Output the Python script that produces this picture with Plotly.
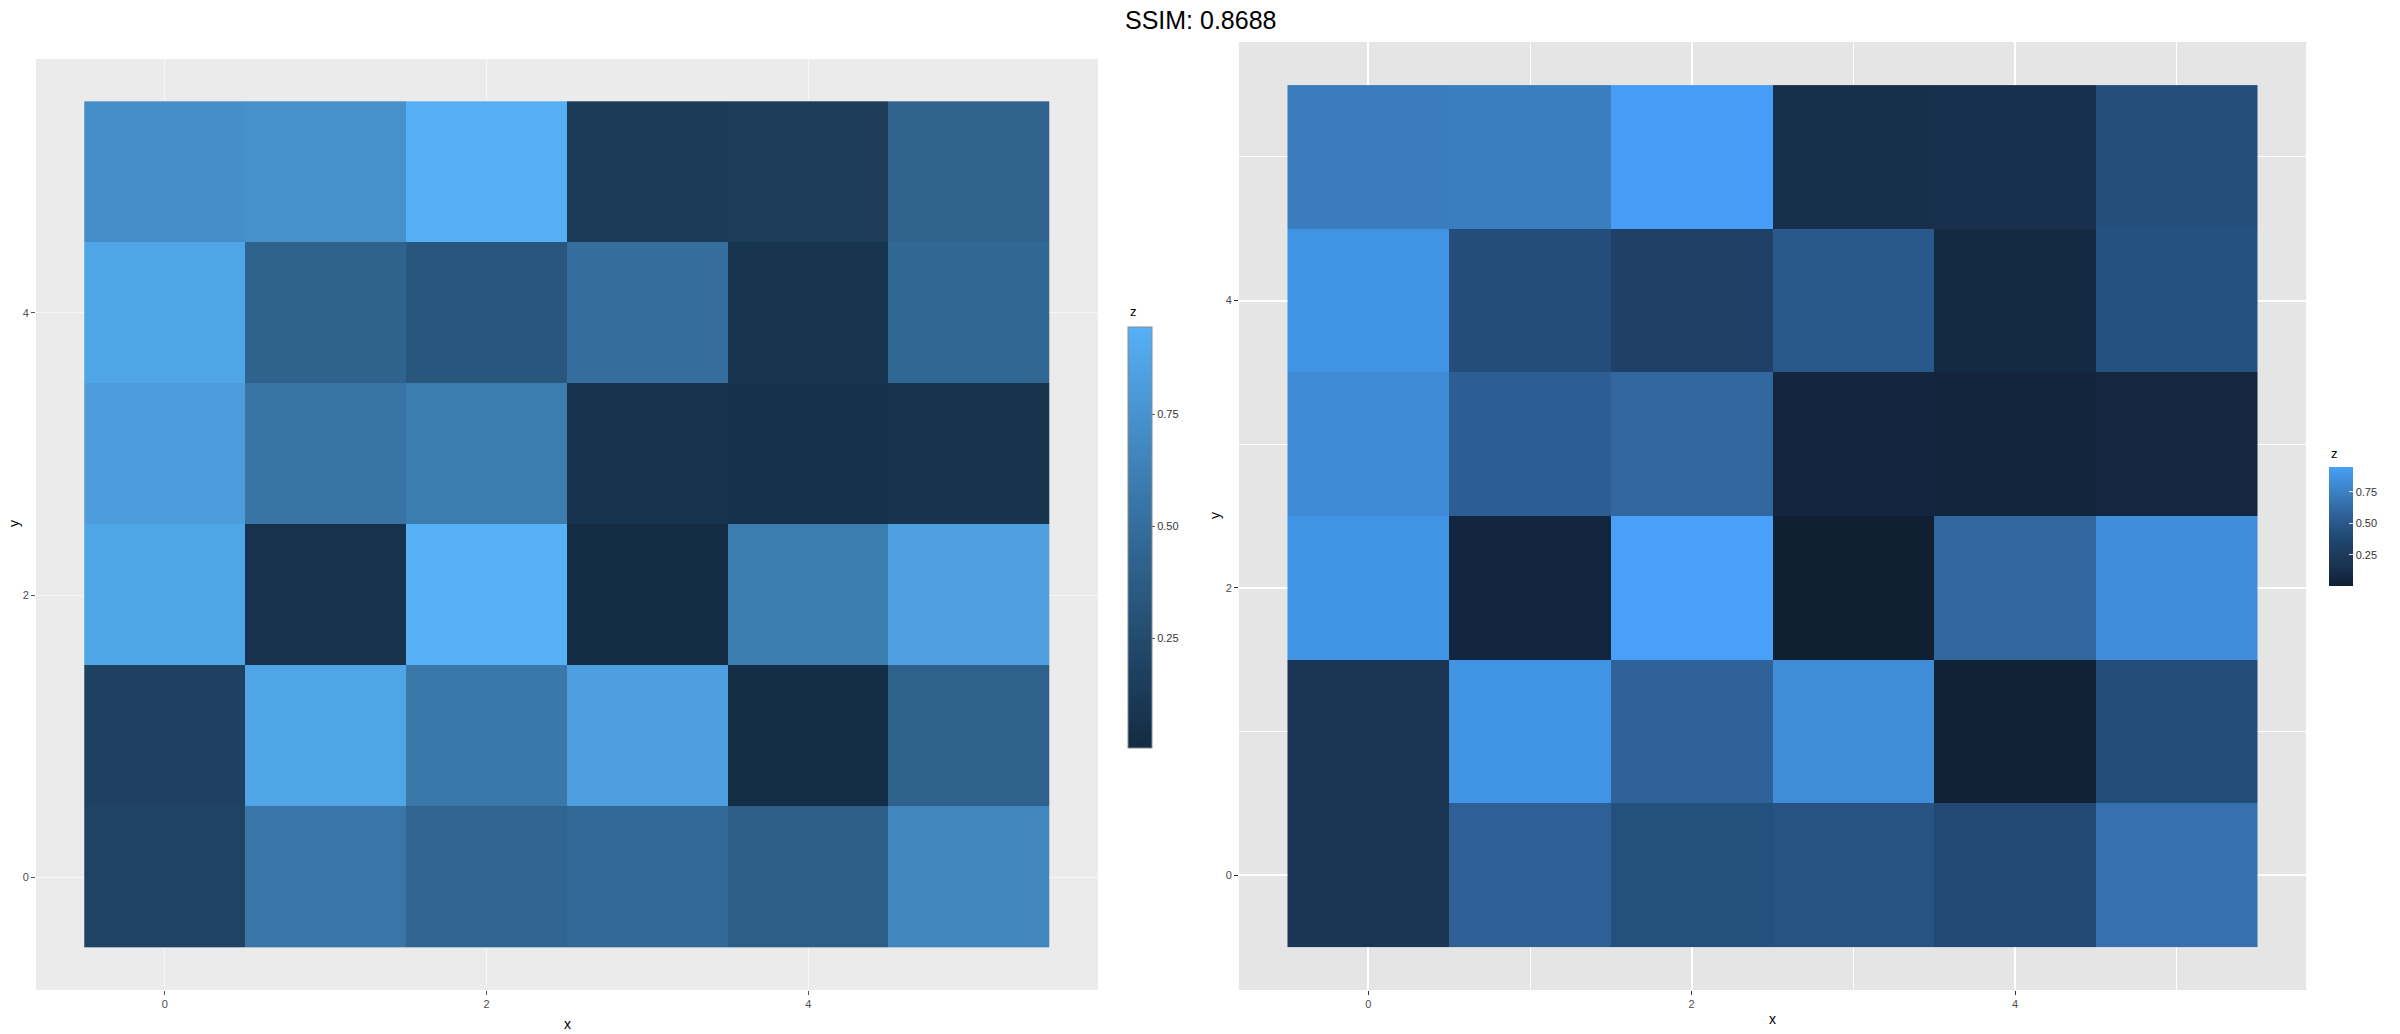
import plotly.graph_objects as go

# ---- data (rows are y = 0..5, columns are x = 0..5) ----
x_vals = [0, 1, 2, 3, 4, 5]
y_vals = [0, 1, 2, 3, 4, 5]
z_row0 = [0.19, 0.55, 0.44, 0.46, 0.39, 0.66]
z_row1 = [0.18, 0.87, 0.57, 0.83, 0.03, 0.41]
z_row2 = [0.87, 0.06, 0.945, 0.005, 0.60, 0.84]
z_row3 = [0.82, 0.54, 0.60, 0.06, 0.05, 0.07]
z_row4 = [0.87, 0.42, 0.33, 0.50, 0.08, 0.45]
z_row5 = [0.72, 0.73, 0.93, 0.13, 0.14, 0.43]
z_grid = [z_row0, z_row1, z_row2, z_row3, z_row4, z_row5]
tick_vals = [0, 2, 4]
cbar_ticks = [0.25, 0.50, 0.75]
cbar_labels = ["0.25", "0.50", "0.75"]
title_text = "SSIM: 0.8688"

W, H = 2400, 1034


def px(p):
    return p / W


def py(p):
    return 1 - p / H


def srgb_to_lin(c):
    c = c / 255.0
    return c / 12.92 if c <= 0.04045 else ((c + 0.055) / 1.055) ** 2.4


def lin_to_srgb(c):
    c = max(0.0, min(1.0, c))
    v = 12.92 * c if c <= 0.0031308 else 1.055 * c ** (1 / 2.4) - 0.055
    return int(round(v * 255))


def hex_to_lab(h):
    r, g, b = (srgb_to_lin(int(h[i:i + 2], 16)) for i in (1, 3, 5))
    X = (0.4124 * r + 0.3576 * g + 0.1805 * b) / 0.95047
    Y = (0.2126 * r + 0.7152 * g + 0.0722 * b)
    Z = (0.0193 * r + 0.1192 * g + 0.9505 * b) / 1.08883

    def f(t):
        return t ** (1 / 3) if t > 0.008856 else 7.787 * t + 16 / 116
    fx, fy, fz = f(X), f(Y), f(Z)
    return 116 * fy - 16, 500 * (fx - fy), 200 * (fy - fz)


def lab_to_hex(L, a, b):
    fy = (L + 16) / 116
    fx = fy + a / 500
    fz = fy - b / 200

    def finv(t):
        return t ** 3 if t ** 3 > 0.008856 else (t - 16 / 116) / 7.787
    X, Y, Z = finv(fx) * 0.95047, finv(fy), finv(fz) * 1.08883
    r = 3.2406 * X - 1.5372 * Y - 0.4986 * Z
    g = -0.9689 * X + 1.8758 * Y + 0.0415 * Z
    bb = 0.0557 * X - 0.2040 * Y + 1.0570 * Z
    return "#%02x%02x%02x" % (lin_to_srgb(r), lin_to_srgb(g), lin_to_srgb(bb))


lo, hi = hex_to_lab("#132B43"), hex_to_lab("#56B1F7")
left_scale = []
for i in range(11):
    t = i / 10
    left_scale.append([t, lab_to_hex(*[lo[k] + (hi[k] - lo[k]) * t for k in range(3)])])

right_scale = [
    [0.0, "#101F31"], [0.0585, "#13263F"], [0.1755, "#1A3452"],
    [0.3457, "#1F4168"], [0.4628, "#24507E"], [0.633, "#32669F"],
    [0.7606, "#3A7CBD"], [0.920, "#4193E3"], [1.0, "#48A0F9"],
]

zmin = min(min(r) for r in z_grid)
zmax = max(max(r) for r in z_grid)

FONT = "Liberation Sans, Arial"

fig = go.Figure()

fig.add_trace(go.Heatmap(
    x=x_vals, y=y_vals, z=z_grid, xaxis="x", yaxis="y",
    colorscale=left_scale, zmin=zmin, zmax=zmax,
    colorbar=dict(
        x=px(1128), xanchor="left", xpad=0,
        y=py(327), yanchor="top", ypad=0,
        len=421, lenmode="pixels", thickness=24, thicknessmode="pixels",
        outlinecolor="#8a8a8a", outlinewidth=1,
        tickvals=cbar_ticks, ticktext=cbar_labels,
        ticks="outside", ticklen=3, tickcolor="#555555",
        tickfont=dict(family=FONT, size=11, color="#333333"),
    ),
    hoverinfo="skip",
))

fig.add_trace(go.Heatmap(
    x=x_vals, y=y_vals, z=z_grid, xaxis="x2", yaxis="y2",
    colorscale=right_scale, zmin=zmin, zmax=zmax,
    colorbar=dict(
        x=px(2329), xanchor="left", xpad=0,
        y=py(467), yanchor="top", ypad=0,
        len=119, lenmode="pixels", thickness=24, thicknessmode="pixels",
        outlinewidth=0,
        tickvals=cbar_ticks, ticktext=cbar_labels,
        ticks="inside", ticklen=4, tickcolor="#dddddd",
        tickfont=dict(family=FONT, size=11, color="#333333"),
    ),
    hoverinfo="skip",
))

tickfont = dict(family=FONT, size=11, color="#4D4D4D")

fig.update_layout(
    width=W, height=H,
    margin=dict(l=0, r=0, t=0, b=0),
    paper_bgcolor="white",
    plot_bgcolor="white",
    showlegend=False,
    xaxis=dict(domain=[px(36), px(1098)], anchor="y", range=[-0.8, 5.8],
               tickvals=tick_vals, showgrid=True, gridcolor="#F7F7F7", gridwidth=1,
               zeroline=False, ticks="outside", ticklen=4, tickcolor="#555555",
               tickfont=tickfont, showline=False),
    yaxis=dict(domain=[py(990), py(59)], anchor="x", range=[-0.8, 5.8],
               tickvals=tick_vals, showgrid=True, gridcolor="#F7F7F7", gridwidth=1,
               zeroline=False, ticks="outside", ticklen=4, tickcolor="#555555",
               tickfont=tickfont, showline=False),
    xaxis2=dict(domain=[px(1239), px(2306)], anchor="y2", range=[-0.8, 5.8],
                tickvals=tick_vals, showgrid=True, gridcolor="white", gridwidth=2,
                minor=dict(dtick=1, tick0=1, showgrid=True, gridcolor="white", gridwidth=1),
                zeroline=False, ticks="outside", ticklen=4, tickcolor="#333333",
                tickfont=tickfont, showline=False),
    yaxis2=dict(domain=[py(990), py(42)], anchor="x2", range=[-0.8, 5.8],
                tickvals=tick_vals, showgrid=True, gridcolor="white", gridwidth=2,
                minor=dict(dtick=1, tick0=1, showgrid=True, gridcolor="white", gridwidth=1),
                zeroline=False, ticks="outside", ticklen=4, tickcolor="#333333",
                tickfont=tickfont, showline=False),
    shapes=[
        dict(type="rect", xref="paper", yref="paper", layer="below",
             x0=px(36), x1=px(1098), y0=py(990), y1=py(59),
             fillcolor="#EBEBEB", line=dict(width=0)),
        dict(type="rect", xref="paper", yref="paper", layer="below",
             x0=px(1239), x1=px(2306), y0=py(990), y1=py(42),
             fillcolor="#E5E5E5", line=dict(width=0)),
    ],
    annotations=[
        dict(text=title_text, x=px(1200), y=py(20), xref="paper", yref="paper",
             showarrow=False, font=dict(family=FONT, size=25, color="black"),
             xanchor="center", yanchor="middle"),
        dict(text="x", x=px(567), y=py(1024), xref="paper", yref="paper",
             showarrow=False, font=dict(family=FONT, size=14, color="black"),
             xanchor="center", yanchor="middle"),
        dict(text="x", x=px(1772), y=py(1019), xref="paper", yref="paper",
             showarrow=False, font=dict(family=FONT, size=14, color="black"),
             xanchor="center", yanchor="middle"),
        dict(text="y", x=px(14), y=py(524), xref="paper", yref="paper", textangle=-90,
             showarrow=False, font=dict(family=FONT, size=14, color="black"),
             xanchor="center", yanchor="middle"),
        dict(text="y", x=px(1215), y=py(516), xref="paper", yref="paper", textangle=-90,
             showarrow=False, font=dict(family=FONT, size=14, color="black"),
             xanchor="center", yanchor="middle"),
        dict(text="z", x=px(1128), y=py(311), xref="paper", yref="paper",
             showarrow=False, font=dict(family=FONT, size=13, color="black"),
             xanchor="left", yanchor="middle"),
        dict(text="z", x=px(2329), y=py(454), xref="paper", yref="paper",
             showarrow=False, font=dict(family=FONT, size=13, color="black"),
             xanchor="left", yanchor="middle"),
    ],
)

fig.write_html(
    "out.html",
    config={"displayModeBar": False},
    post_script="document.body.style.margin='0';document.body.style.overflow='hidden';",
)
